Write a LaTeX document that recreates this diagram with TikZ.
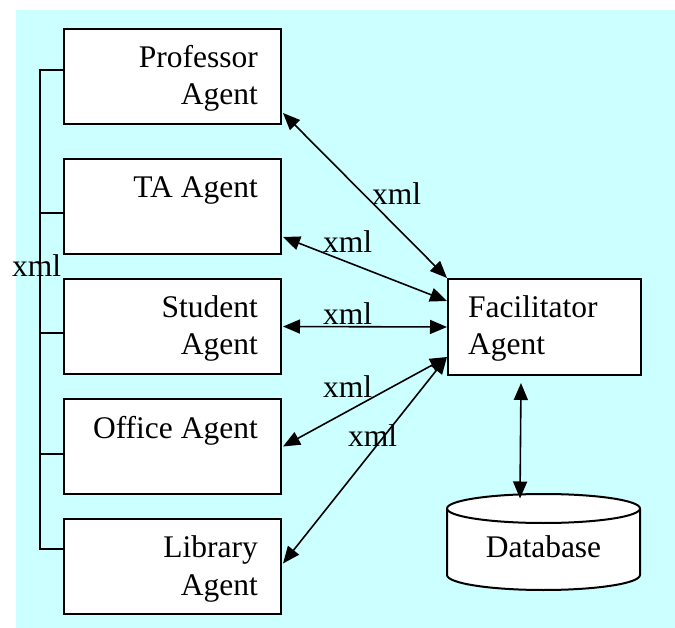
\documentclass[tikz,border=0pt]{standalone}
\usepackage{fontspec}
\setmainfont{Liberation Serif}
\usetikzlibrary{arrows.meta,calc}
\definecolor{bgcyan}{HTML}{CCFFFF}
\begin{document}
\begin{tikzpicture}[x=1pt,y=-1pt,
  font=\fontsize{31.5}{37.5}\selectfont,
  agentbox/.style={draw,line width=2pt,fill=white,minimum width=217pt,minimum height=95pt,inner sep=0pt,anchor=north west},
  txt/.style={inner sep=0pt},
  conn/.style={line width=1.6pt,{Triangle[length=17pt,width=14pt]}-{Triangle[length=17pt,width=14pt]}},
  bus/.style={line width=2pt}]
\useasboundingbox (0,0) rectangle (675,628);
\fill[white] (0,0) rectangle (675,628);
\fill[bgcyan] (16,10) rectangle (675,628);
% agent boxes
\node[agentbox] (prof) at (63,28) {};
\node[agentbox] (ta) at (63,158) {};
\node[agentbox] (stud) at (63,278) {};
\node[agentbox] (off) at (63,398) {};
\node[agentbox] (lib) at (63,518) {};
\node[agentbox,minimum width=193pt,minimum height=96pt] (fac) at (447,278) {};
% database cylinder
\coordinate (dbtop) at (543.5,508.5);
\draw[line width=2pt,fill=white] (447,508.5) -- (447,575)
  arc[start angle=180,end angle=360,x radius=96.5pt,y radius=15pt] -- (640,508.5)
  arc[start angle=0,end angle=180,x radius=96.5pt,y radius=14.5pt] -- cycle;
\draw[line width=2pt] (447,508.5) arc[start angle=180,end angle=360,x radius=96.5pt,y radius=14.5pt];
% texts (base anchor of a multi-line node is on its last line)
\node[txt,anchor=base east,align=right] (proft) at (258,105) {Professor\\Agent};
\node[txt,anchor=base east] (tat) at (258,198) {TA Agent};
\node[txt,anchor=base east,align=right] (studt) at (258,355) {Student\\Agent};
\node[txt,anchor=base east] (offt) at (258,438) {Office Agent};
\node[txt,anchor=base east,align=right] (libt) at (258,595) {Library\\Agent};
\node[txt,anchor=base west,align=left] (fact) at (468,355) {Facilitator\\Agent};
\node[txt,anchor=base] (db) at (543.5,557) {Database};
% bus
\coordinate (b1) at (40,70);
\coordinate (b2) at (40,213);
\coordinate (b3) at (40,333);
\coordinate (b4) at (40,454);
\coordinate (b5) at (40,549);
\draw[bus] (prof.west |- b1) -- (b1) -- (b5) -- (lib.west |- b5);
\draw[bus] (b2) -- (ta.west |- b2);
\draw[bus] (b3) -- (stud.west |- b3);
\draw[bus] (b4) -- (off.west |- b4);
% connectors
\draw[conn] ([shift={(1,-12)}]prof.south east) -- (fac.north west);
\draw[conn] ([shift={(1,-18)}]ta.south east) -- ([shift={(0,-26)}]fac.west);
\draw[conn] ([xshift=1pt]stud.east) -- (fac.west);
\draw[conn] ([xshift=1pt]off.east) -- ([shift={(0,30)}]fac.west);
\draw[conn] ([shift={(1,-3)}]lib.east) -- ([shift={(0,30)}]fac.west);
\draw[conn] ([shift={(-23.5,7)}]fac.south) -- ([shift={(-23.5,-10)}]dbtop);
% labels
\node[txt,anchor=base west] (x1) at (372,205) {xml};
\node[txt,anchor=base west] (x2) at (323,253) {xml};
\node[txt,anchor=base west] (x3) at (323,325) {xml};
\node[txt,anchor=base west] (x4) at (323,397) {xml};
\node[txt,anchor=base west] (x5) at (348,446) {xml};
\node[txt,anchor=base west] (x6) at (12,277) {xml};
\end{tikzpicture}
\end{document}
